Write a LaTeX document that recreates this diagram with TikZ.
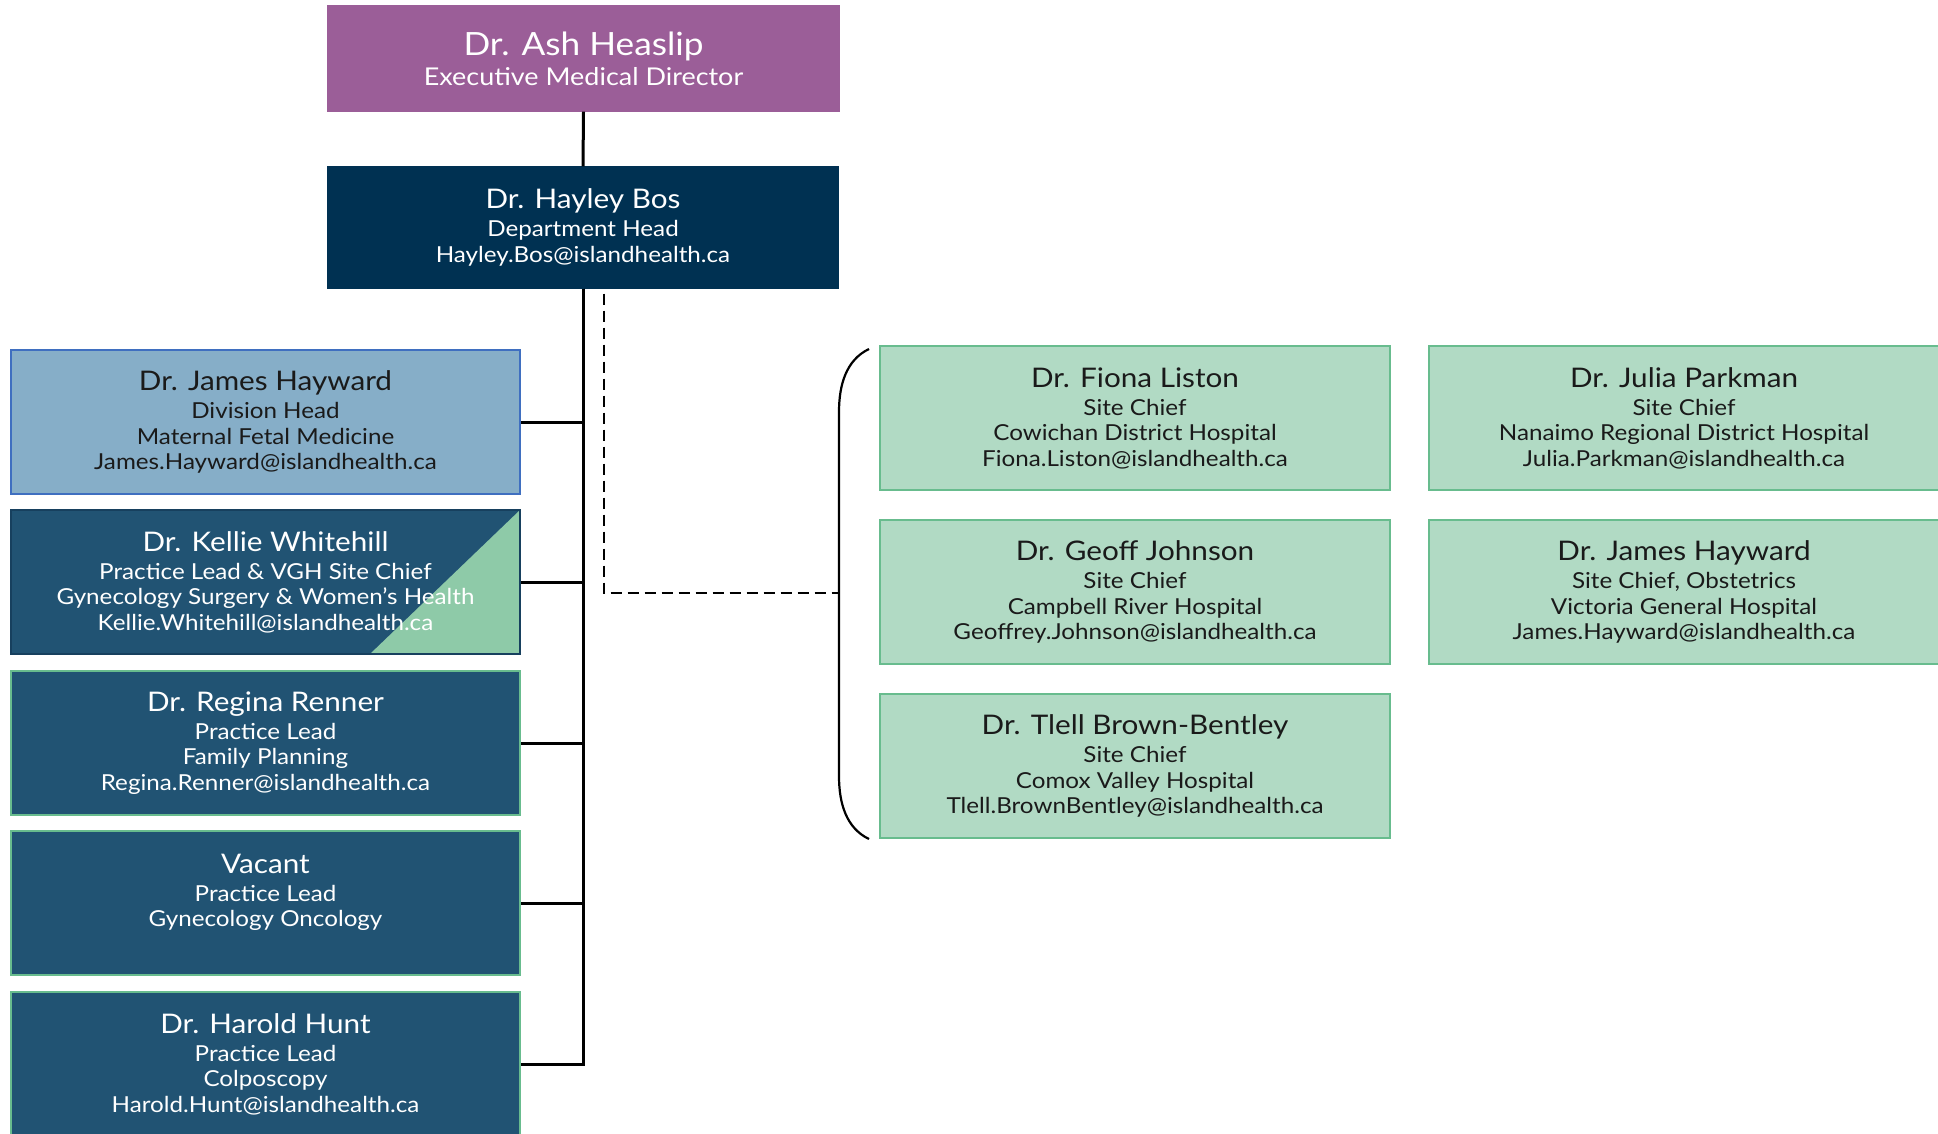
\documentclass[tikz,border=0pt]{standalone}
\usepackage{fontspec}
\setmainfont{Lato}[FakeStretch=1.1]
\usepackage{tikz}
\usetikzlibrary{calc}
\definecolor{plum}{HTML}{9B5E98}
\definecolor{navy}{HTML}{003152}
\definecolor{skyblue}{HTML}{86AEC8}
\definecolor{edgeblue}{HTML}{3F6FC0}
\definecolor{deepblue}{HTML}{215373}
\definecolor{edgenavy}{HTML}{17405E}
\definecolor{mint}{HTML}{B1DAC4}
\definecolor{mintedge}{HTML}{68BC8E}
\definecolor{leaf}{HTML}{8ECAA8}
\definecolor{ink}{HTML}{1A1A1A}
\newcommand{\who}[1]{{\fontsize{27}{30}\selectfont #1}\\[2.5pt]}
\tikzset{
  card/.style={draw, line width=1.2pt, minimum width=509pt, minimum height=144pt,
    inner sep=0pt, align=center, font=\fontsize{22}{25.5}\selectfont},
  lead/.style={card, fill=deepblue, draw=mintedge, text=white},
  site/.style={card, fill=mint, draw=mintedge, text=ink, minimum width=510pt},
  link/.style={line width=3pt},
  dline/.style={line width=2.8pt, dash pattern=on 11pt off 6pt},
  brace/.style={line width=2.2pt}
}
\begin{document}
\begin{tikzpicture}[x=1pt,y=-1pt]
  \useasboundingbox (0,0) rectangle (1938,1133);

  % top of the tree
  \node[card, fill=plum, draw=plum, text=white, minimum width=511pt, minimum height=105pt,
    font=\fontsize{24.5}{27}\selectfont] (ed) at (583.5,58.5)
    {{\fontsize{32}{34}\selectfont Dr. Ash Heaslip}\\[3pt]Executive Medical Director};
  \node[card, fill=navy, draw=navy, text=white, minimum width=510pt, minimum height=121pt] (dh) at (583,227.5)
    {\who{Dr. Hayley Bos}Department Head\\Hayley.Bos@islandhealth.ca};

  % divisions
  \node[card, fill=skyblue, draw=edgeblue, text=ink] (mfm) at (265.5,422)
    {\who{Dr. James Hayward}Division Head\\Maternal Fetal Medicine\\James.Hayward@islandhealth.ca};
  \node[lead, draw=edgenavy, path picture={
      \fill[leaf] (path picture bounding box.south east) -- (path picture bounding box.north east)
        -- ([xshift=-150pt]path picture bounding box.south east) -- cycle;}] (gyn) at (265.5,582)
    {\who{Dr. Kellie Whitehill}Practice Lead \& VGH Site Chief\\Gynecology Surgery \& Women’s Health\\Kellie.Whitehill@islandhealth.ca};
  \node[lead] (fp) at (265.5,743)
    {\who{Dr. Regina Renner}Practice Lead\\Family Planning\\Regina.Renner@islandhealth.ca};
  \node[lead] (onc) at (265.5,903)
    {\who{Vacant}Practice Lead\\Gynecology Oncology\\~};
  \node[lead] (colpo) at (265.5,1064)
    {\who{Dr. Harold Hunt}Practice Lead\\Colposcopy\\Harold.Hunt@islandhealth.ca};

  % site chiefs
  \node[site] (cdh) at (1135,418)
    {\who{Dr. Fiona Liston}Site Chief\\Cowichan District Hospital\\Fiona.Liston@islandhealth.ca};
  \node[site] (nrgh) at (1684,418)
    {\who{Dr. Julia Parkman}Site Chief\\Nanaimo Regional District Hospital\\Julia.Parkman@islandhealth.ca};
  \node[site] (crh) at (1135,592)
    {\who{Dr. Geoff Johnson}Site Chief\\Campbell River Hospital\\Geoffrey.Johnson@islandhealth.ca};
  \node[site] (vgh) at (1684,592)
    {\who{Dr. James Hayward}Site Chief, Obstetrics\\Victoria General Hospital\\James.Hayward@islandhealth.ca};
  \node[site] (cvh) at (1135,766)
    {\who{Dr. Tlell Brown-Bentley}Site Chief\\Comox Valley Hospital\\Tlell.BrownBentley@islandhealth.ca};

  % reporting lines
  \draw[link] (ed.south) -- (dh.north);
  \foreach \n in {mfm,gyn,fp,onc,colpo}
    \draw[link] (dh.south) |- (\n.east);

  \coordinate (btop) at (869,349);
  \coordinate (bmid) at (839,593);
  \coordinate (bbot) at (869,839);
  \draw[brace] (btop) .. controls (846,360) and (839,385) .. (839,412)
    -- (839,776) .. controls (839,803) and (846,828) .. (bbot);
  \draw[dline] ([xshift=21pt,yshift=-5pt]dh.south) |- (bmid);
\end{tikzpicture}
\end{document}
